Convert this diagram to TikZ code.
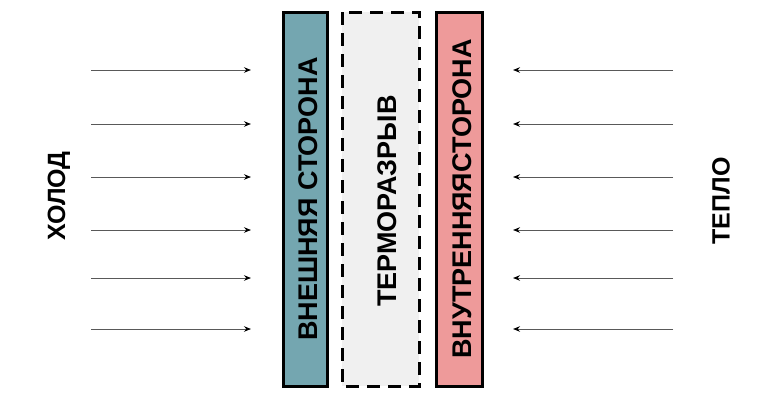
\documentclass[tikz,border=0pt]{standalone}
\usepackage{fontspec}
\setmainfont{Liberation Sans}
\usetikzlibrary{arrows.meta}
\definecolor{outercol}{HTML}{74A6B0}
\definecolor{innercol}{HTML}{EE9A9A}
\definecolor{breakcol}{HTML}{F0F0F0}
\tikzset{
  wall/.style={draw=black, line width=3pt},
  heatflow/.style={draw=black!65, line width=1pt, -{Stealth[length=7pt,width=5.5pt,black]}},
  walltext/.style={rotate=90, font=\bfseries\fontsize{27}{27}\selectfont, inner sep=0pt},
  sidetext/.style={rotate=90, font=\bfseries\fontsize{25}{25}\selectfont, inner sep=0pt}
}
\begin{document}
\begin{tikzpicture}[x=1pt,y=-1pt]
    \useasboundingbox (0,0) rectangle (770,400);
    % walls
    \fill [breakcol] (342,12) rectangle (419,386);
    \draw [wall, dash pattern=on 13pt off 8pt] (342,12) rectangle (419,386);
    \draw [wall, fill=outercol] (283,12) rectangle (327,386);
    \draw [wall, fill=innercol] (436,12) rectangle (482,386);
    \node (outer) [walltext] at (308,199) {ВНЕШНЯЯ СТОРОНА};
    \node (break) [walltext] at (387,201) {ТЕРМОРАЗРЫВ};
    \node (inner) [walltext] at (462,199) {ВНУТРЕННЯЯСТОРОНА};
    % sides
    \node (cold) [sidetext] at (59,196) {ХОЛОД};
    \node (warm) [sidetext] at (721,201) {ТЕПЛО};
    % arrows
    \foreach \y [count=\i] in {70,124,177,230,278,329} {
        \coordinate (cs\i) at (91,\y);
        \coordinate (ce\i) at (251,\y);
        \coordinate (ws\i) at (673,\y);
        \coordinate (we\i) at (513,\y);
        \draw [heatflow] (cs\i) -- (ce\i);
        \draw [heatflow] (ws\i) -- (we\i);
    }
\end{tikzpicture}
\end{document}
